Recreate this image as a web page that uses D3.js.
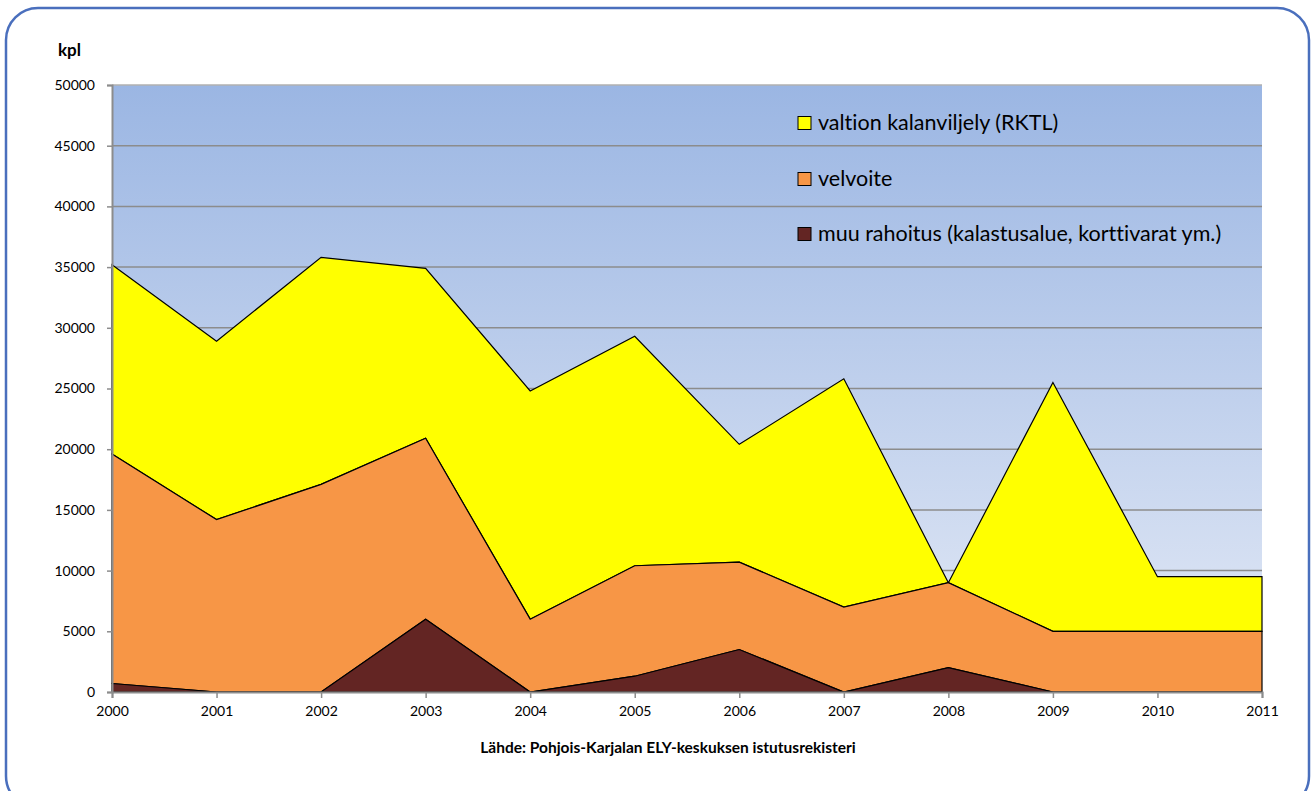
<!DOCTYPE html>
<html>
<head>
<meta charset="utf-8">
<script src="https://cdn.jsdelivr.net/npm/d3@7"></script>
<style>
  body { margin: 0; background: #fff; }
  svg { display: block; }
  text { font-family: Lato, "Open Sans", sans-serif; fill: #000; font-variant-ligatures: none; }
</style>
</head>
<body>
<script>
'use strict';

// years on the x axis
const years = [2000, 2001, 2002, 2003, 2004, 2005, 2006, 2007, 2008, 2009, 2010, 2011];

// series values (kpl), bottom to top of the stack
const muu = [700, 0, 0, 6000, 0, 1300, 3500, 0, 2000, 0, 0, 0];
const velvoite = [18900, 14200, 17100, 14900, 6000, 9100, 7200, 7000, 7000, 5000, 5000, 5000];
const valtion = [15600, 14700, 18700, 14000, 18800, 18900, 9700, 18800, 0, 20500, 4500, 4500];

const seriesKeys = ['muu', 'velvoite', 'valtion'];
const seriesNames = {
  valtion: 'valtion kalanviljely (RKTL)',
  velvoite: 'velvoite',
  muu: 'muu rahoitus (kalastusalue, korttivarat ym.)'
};
const seriesColors = { valtion: '#ffff00', velvoite: '#f79646', muu: '#632523' };
const legendOrder = ['valtion', 'velvoite', 'muu'];

const yTicks = [0, 5000, 10000, 15000, 20000, 25000, 30000, 35000, 40000, 45000, 50000];

const W = 1312, H = 791;
const plot = { left: 112, right: 1262, top: 85, bottom: 692 };

const svg = d3.select('body').append('svg')
  .attr('width', W)
  .attr('height', H);

// outer rounded frame
svg.append('rect')
  .attr('x', 6).attr('y', 8)
  .attr('width', 1303).attr('height', 800)
  .attr('rx', 32).attr('ry', 32)
  .attr('fill', '#fff')
  .attr('stroke', '#4a6fbd')
  .attr('stroke-width', 2.5);

// plot background gradient
const defs = svg.append('defs');
const grad = defs.append('linearGradient')
  .attr('id', 'bg').attr('x1', 0).attr('y1', 0).attr('x2', 0).attr('y2', 1);
grad.append('stop').attr('offset', '0%').attr('stop-color', '#9bb6e3');
grad.append('stop').attr('offset', '100%').attr('stop-color', '#e4eaf6');

svg.append('rect')
  .attr('x', plot.left).attr('y', plot.top)
  .attr('width', plot.right - plot.left)
  .attr('height', plot.bottom - plot.top)
  .attr('fill', 'url(#bg)');

// scales
const x = d3.scaleLinear()
  .domain([years[0], years[years.length - 1]])
  .range([plot.left, plot.right]);

const y = d3.scaleLinear()
  .domain([0, 50000])
  .range([plot.bottom, plot.top]);

// gridlines
svg.append('g')
  .selectAll('line')
  .data(yTicks.filter(d => d > 0))
  .enter()
  .append('line')
    .attr('x1', plot.left).attr('x2', plot.right)
    .attr('y1', d => y(d)).attr('y2', d => y(d))
    .attr('stroke', d => d === 50000 ? '#b0b0b0' : '#8c8c8c')
    .attr('stroke-width', 1.5);

// stacked areas
const table = years.map((yr, i) => ({ year: yr, muu: muu[i], velvoite: velvoite[i], valtion: valtion[i] }));
const stacked = d3.stack().keys(seriesKeys)(table);

const area = d3.area()
  .x(d => x(d.data.year))
  .y0(d => y(d[0]))
  .y1(d => y(d[1]));

svg.append('g')
  .selectAll('path')
  .data(stacked.slice().reverse())
  .enter()
  .append('path')
    .attr('d', area)
    .attr('fill', d => seriesColors[d.key])
    .attr('stroke', '#000')
    .attr('stroke-width', 1.2)
    .attr('stroke-linejoin', 'miter');

// y axis
const yAxis = d3.axisLeft(y)
  .tickValues(yTicks)
  .tickSize(5)
  .tickPadding(12)
  .tickFormat(d3.format('d'));

const yG = svg.append('g')
  .attr('transform', 'translate(' + plot.left + ',0)')
  .call(yAxis);
yG.select('.domain').attr('stroke', '#8c8c8c').attr('stroke-width', 2);
yG.selectAll('.tick line').attr('stroke', '#8c8c8c').attr('stroke-width', 1.5);
yG.selectAll('.tick text')
  .style('font-size', '14px')
  .style('font-family', 'Lato, "Open Sans", sans-serif')
  .attr('fill', '#000');

// x axis
const xAxis = d3.axisBottom(x)
  .tickValues(years)
  .tickSize(6)
  .tickPadding(8)
  .tickFormat(d3.format('d'));

const xG = svg.append('g')
  .attr('transform', 'translate(0,' + plot.bottom + ')')
  .call(xAxis);
xG.select('.domain').attr('stroke', '#8c8c8c').attr('stroke-width', 2);
xG.selectAll('.tick line').attr('stroke', '#8c8c8c').attr('stroke-width', 1.5);
xG.selectAll('.tick text')
  .style('font-size', '14px')
  .style('font-family', 'Lato, "Open Sans", sans-serif')
  .attr('fill', '#000');

// axis title
svg.append('text')
  .attr('x', 58).attr('y', 56)
  .style('font-size', '17px')
  .style('font-weight', 'bold')
  .text('kpl');

// source text
svg.append('text')
  .attr('x', 668).attr('y', 753)
  .attr('text-anchor', 'middle')
  .style('font-size', '15.5px')
  .style('font-weight', 'bold')
  .text('Lähde: Pohjois-Karjalan ELY-keskuksen istutusrekisteri');

// legend
const legendY = [123, 179, 234];
const legend = svg.append('g')
  .selectAll('g')
  .data(legendOrder)
  .enter()
  .append('g')
    .attr('transform', (d, i) => 'translate(798,' + legendY[i] + ')');

legend.append('rect')
  .attr('x', 0).attr('y', -6.5)
  .attr('width', 13).attr('height', 13)
  .attr('fill', d => seriesColors[d])
  .attr('stroke', '#000')
  .attr('stroke-width', 1);

legend.append('text')
  .attr('x', 20).attr('y', 7)
  .style('font-size', '21.5px')
  .text(d => seriesNames[d]);
</script>
</body>
</html>
